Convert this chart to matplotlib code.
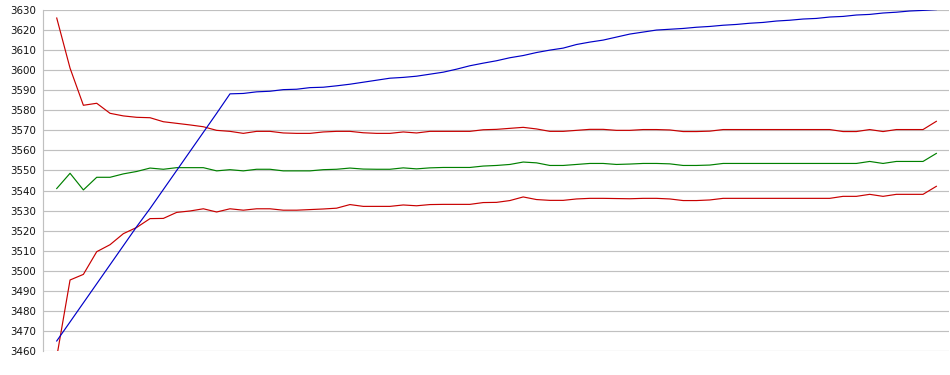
import numpy as np
import matplotlib
matplotlib.use("Agg")
import matplotlib.pyplot as plt

# values, one per sample
upper = [3626, 3601, 3582.5, 3583.5, 3578.5, 3577.2, 3576.5, 3576.3, 3574.3, 3573.5,
         3572.7, 3571.8, 3570, 3569.5, 3568.5, 3569.5, 3569.5, 3568.7, 3568.5, 3568.5,
         3569.2, 3569.5, 3569.5, 3568.8, 3568.5, 3568.5, 3569.2, 3568.7, 3569.5, 3569.5,
         3569.5, 3569.5, 3570.3, 3570.5, 3571, 3571.5, 3570.7, 3569.5, 3569.5, 3570,
         3570.5, 3570.5, 3570, 3570, 3570.4, 3570.4, 3570.2, 3569.4, 3569.4, 3569.6,
         3570.4, 3570.4, 3570.4, 3570.4, 3570.4, 3570.4, 3570.4, 3570.4, 3570.4, 3569.4,
         3569.4, 3570.4, 3569.4, 3570.4, 3570.4, 3570.4, 3574.5]

middle = [3541, 3548.6, 3540.3, 3546.6, 3546.6, 3548.3, 3549.5, 3551.2, 3550.6, 3551.4,
          3551.4, 3551.4, 3549.8, 3550.4, 3549.8, 3550.6, 3550.6, 3549.8, 3549.8, 3549.8,
          3550.4, 3550.6, 3551.2, 3550.7, 3550.6, 3550.6, 3551.3, 3550.8, 3551.3, 3551.5,
          3551.5, 3551.5, 3552.2, 3552.5, 3553, 3554.2, 3553.8, 3552.5, 3552.5, 3553,
          3553.5, 3553.5, 3553, 3553.2, 3553.5, 3553.5, 3553.3, 3552.5, 3552.5, 3552.7,
          3553.5, 3553.5, 3553.5, 3553.5, 3553.5, 3553.5, 3553.5, 3553.5, 3553.5, 3553.5,
          3553.5, 3554.5, 3553.5, 3554.5, 3554.5, 3554.5, 3558.5]

lower = [3457, 3495.4, 3498.2, 3509.5, 3513, 3518.5, 3521.6, 3526, 3526.1, 3529.1,
         3529.8, 3530.9, 3529.3, 3530.9, 3530.2, 3530.9, 3530.9, 3530.2, 3530.2, 3530.5,
         3530.8, 3531.2, 3533, 3532.1, 3532.1, 3532.1, 3532.8, 3532.4, 3533, 3533.1,
         3533.1, 3533.1, 3534, 3534.1, 3535, 3536.8, 3535.5, 3535.1, 3535.1, 3535.8,
         3536.1, 3536.1, 3536, 3535.9, 3536.1, 3536.1, 3535.8, 3535, 3535, 3535.3,
         3536.1, 3536.1, 3536.1, 3536.1, 3536.1, 3536.1, 3536.1, 3536.1, 3536.1, 3537.1,
         3537.1, 3538.1, 3537.1, 3538.1, 3538.1, 3538.1, 3542.1]

blue = [3465, 3474.5, 3484, 3493.5, 3503, 3512.5, 3522, 3531, 3540.5, 3550,
        3559.5, 3569, 3578.5, 3588.2, 3588.4, 3589.2, 3589.5, 3590.3, 3590.5, 3591.3,
        3591.5, 3592.2, 3593, 3594, 3595, 3596, 3596.4, 3597, 3598, 3599,
        3600.5, 3602.2, 3603.5, 3604.7, 3606.2, 3607.3, 3608.8, 3610, 3611, 3612.8,
        3614, 3615, 3616.5, 3618, 3619, 3620, 3620.4, 3620.8, 3621.4, 3621.8,
        3622.4, 3622.8, 3623.4, 3623.8, 3624.5, 3624.9, 3625.5, 3625.8, 3626.5, 3626.8,
        3627.5, 3627.8, 3628.5, 3628.9, 3629.5, 3629.8, 3630.2]

y_ticks = list(range(3460, 3631, 10))

x = np.arange(len(blue))

fig = plt.figure(figsize=(9.5, 3.75), dpi=100)
ax = fig.add_axes([43 / 950, 24 / 375, 906 / 950, 341 / 375])

ax.plot(x, upper, color="#c80000", lw=0.85)
ax.plot(x, middle, color="#008000", lw=0.85)
ax.plot(x, lower, color="#c80000", lw=0.85)
ax.plot(x, blue, color="#0000c8", lw=0.85)

ax.set_xlim(-1.03, 66.95)
ax.set_ylim(3460, 3630)
ax.set_yticks(y_ticks)
ax.set_xticks([])
ax.grid(axis="y", color="#c0c0c0", lw=0.85)
ax.set_axisbelow(True)
ax.tick_params(axis="y", length=0, pad=5, labelsize=7.4, labelcolor="#111111")

for side in ["top", "right", "bottom"]:
    ax.spines[side].set_visible(False)
ax.spines["left"].set_color("#c0c0c0")
ax.spines["left"].set_linewidth(0.85)

fig.savefig("out.png", dpi=100)
